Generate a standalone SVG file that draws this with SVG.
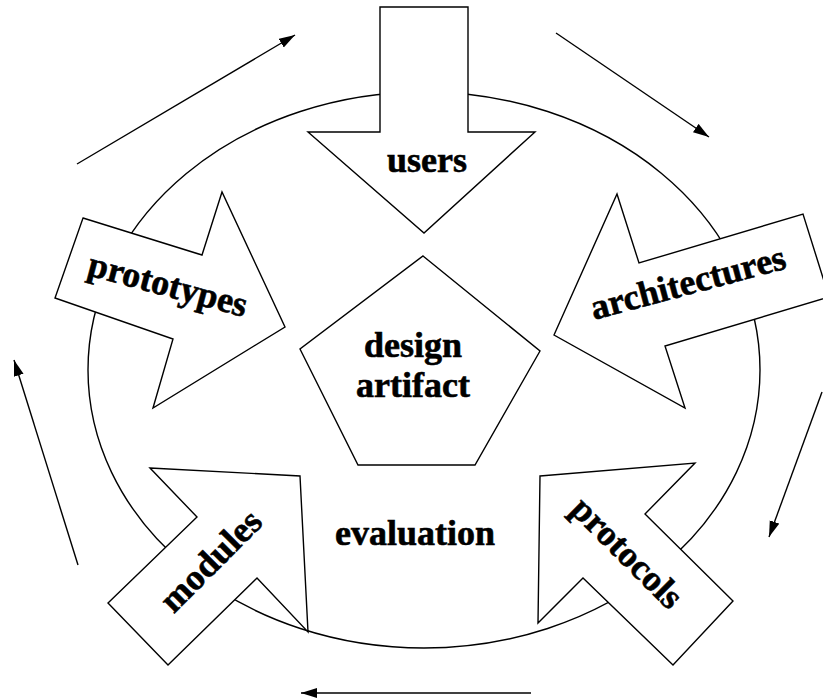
<svg xmlns="http://www.w3.org/2000/svg" width="823" height="700" viewBox="0 0 823 700">
<style>
.shape{fill:#fff;stroke:#000;stroke-width:1.4;stroke-linejoin:miter}
.ring{fill:none;stroke:#000;stroke-width:1.4}
.lbl{font-family:"Liberation Serif","Times New Roman",serif;font-weight:bold;font-size:36px;fill:#000;stroke:#000;stroke-width:0.6;text-anchor:middle}
.conn{fill:none;stroke:#000;stroke-width:1.4;marker-end:url(#ah)}
</style>
<defs>
<marker id="ah" markerUnits="userSpaceOnUse" markerWidth="18" markerHeight="12" refX="16" refY="5" orient="auto">
<path d="M0,0 L16,5 L0,10 z" fill="#000"/>
</marker>
</defs>
<rect width="823" height="700" fill="#fff"/>
<g id="cycle">
<ellipse class="ring" cx="424" cy="370" rx="336" ry="278"/>
</g>
<g id="connectors">
<line class="conn" x1="77" y1="164" x2="295" y2="35"/>
<line class="conn" x1="556" y1="33" x2="709" y2="137"/>
<line class="conn" x1="822" y1="392" x2="769" y2="537"/>
<line class="conn" x1="531" y1="693" x2="301" y2="693"/>
<line class="conn" x1="78" y1="565" x2="14" y2="360"/>
</g>
<g id="users">
<polygon class="shape" points="380,7 468,7 468,132 535,132 424,233 308,132 380,132"/>
<text class="lbl" x="427" y="172">users</text>
</g>
<g id="prototypes">
<polygon class="shape" points="83,218 202,255 222,192 285,327 153,408 173,339 55,298"/>
<text class="lbl" x="165" y="296" transform="rotate(15 165 296)">prototypes</text>
</g>
<g id="architectures">
<polygon class="shape" points="554,335 617,194 639,263 803,214 829,297 665,346 685,408"/>
<text class="lbl" x="691" y="294" transform="rotate(-15 691 294)">architectures</text>
</g>
<g id="modules">
<polygon class="shape" points="150,468 300,476 308,632 257,578 168,665 108,603 197,517"/>
<text class="lbl" x="219" y="569" transform="rotate(-45 219 569)">modules</text>
</g>
<g id="protocols">
<polygon class="shape" points="540,476 695,463 645,514 733,601 673,665 583,578 538,623"/>
<text class="lbl" x="619" y="561" transform="rotate(45 619 561)">protocols</text>
</g>
<g id="design-artifact">
<polygon class="shape" points="423,256 540,351 475,465 358,465 300,349"/>
<text class="lbl" x="413" y="357">design</text>
<text class="lbl" x="413" y="397">artifact</text>
</g>
<g id="evaluation">
<text class="lbl" x="415" y="545">evaluation</text>
</g>
</svg>
